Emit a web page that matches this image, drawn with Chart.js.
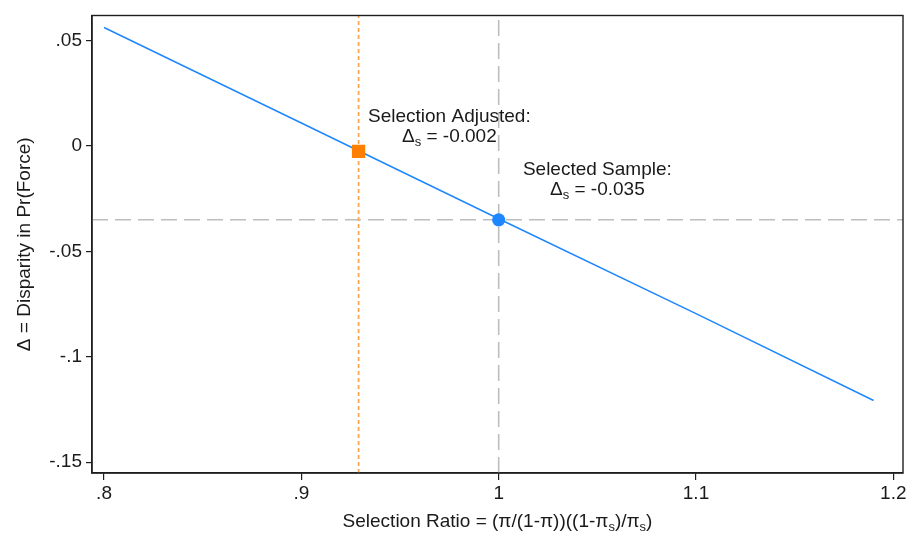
<!DOCTYPE html>
<html>
<head>
<meta charset="utf-8">
<script src="https://cdn.jsdelivr.net/npm/chart.js@4"></script>
<style>
  html, body { margin: 0; padding: 0; background: #ffffff; }
  #wrap { width: 909px; height: 533px; position: relative; }
</style>
</head>
<body>
<div id="wrap"><canvas id="c" width="909" height="533"></canvas></div>
<script>
// ---- data ----
const selectionRatio = [0.8, 0.9, 1.0, 1.1, 1.19];
const disparity = [0.0562, 0.0109, -0.0345, -0.0795, -0.1207];
const selectedX = [1.0];
const selectedY = [-0.035];
const adjustedX = [0.929];
const adjustedY = [-0.0025];
const xTickValues = [0.8, 0.9, 1.0, 1.1, 1.2];
const xTickLabels = ['.8', '.9', '1', '1.1', '1.2'];
const yTickValues = [0.05, 0, -0.05, -0.1, -0.15];
const yTickLabels = ['.05', '0', '-.05', '-.1', '-.15'];
const adjustedLabel = ['Selection Adjusted:', '-0.002'];
const sampleLabel = ['Selected Sample:', '-0.035'];

// ---- axis limits ----
const X_MIN = 0.7939, X_MAX = 1.2049;
const Y_MIN = -0.1551, Y_MAX = 0.0619;

const FONT = '"Liberation Sans", Arial, Helvetica, sans-serif';
const TEXT = '#1a1a1a';

function pts(xs, ys) { return xs.map((x, i) => ({ x: x, y: ys[i] })); }

function drawRich(ctx, parts, cx, baseline) {
  let total = 0;
  parts.forEach(p => {
    ctx.font = (p.sub ? '13px ' : '19px ') + FONT;
    p.w = ctx.measureText(p.t).width;
    total += p.w;
  });
  let x = cx - total / 2;
  ctx.textAlign = 'left';
  ctx.textBaseline = 'alphabetic';
  parts.forEach(p => {
    ctx.font = (p.sub ? '13px ' : '19px ') + FONT;
    ctx.fillText(p.t, x, baseline + (p.sub ? 4 : 0));
    x += p.w;
  });
}

const overlay = {
  id: 'overlay',
  afterDatasetsDraw(chart) {
    const ctx = chart.ctx;
    const a = chart.chartArea;
    const xs = chart.scales.x, ys = chart.scales.y;
    ctx.save();
    ctx.strokeStyle = '#1e1e1e';
    ctx.lineWidth = 1.4;
    ctx.strokeRect(a.left, a.top, a.right - a.left, a.bottom - a.top);
    ctx.fillStyle = TEXT;
    let cx = xs.getPixelForValue(0.975), cy = ys.getPixelForValue(0.01);
    drawRich(ctx, [{ t: adjustedLabel[0] }], cx, cy - 3);
    drawRich(ctx, [{ t: '\u0394' }, { t: 's', sub: true }, { t: ' = ' + adjustedLabel[1] }], cx, cy + 17);
    cx = xs.getPixelForValue(1.05); cy = ys.getPixelForValue(-0.015);
    drawRich(ctx, [{ t: sampleLabel[0] }], cx, cy - 3);
    drawRich(ctx, [{ t: '\u0394' }, { t: 's', sub: true }, { t: ' = ' + sampleLabel[1] }], cx, cy + 17);
    drawRich(ctx, [
      { t: 'Selection Ratio = (\u03c0/(1-\u03c0))((1-\u03c0' }, { t: 's', sub: true },
      { t: ')/\u03c0' }, { t: 's', sub: true }, { t: ')' }
    ], (a.left + a.right) / 2, 527);
    ctx.translate(29.5, (a.top + a.bottom) / 2);
    ctx.rotate(-Math.PI / 2);
    drawRich(ctx, [{ t: '\u0394 = Disparity in Pr(Force)' }], 0, 0);
    ctx.restore();
  }
};

new Chart(document.getElementById('c'), {
  type: 'line',
  data: {
    datasets: [
      {
        data: pts(adjustedX, adjustedY), showLine: false,
        pointStyle: 'rect', pointRadius: 9.4, backgroundColor: '#ff7f00', borderColor: '#ff7f00',
        borderWidth: 0, order: 0
      },
      {
        data: pts(selectedX, selectedY), showLine: false,
        pointStyle: 'circle', pointRadius: 6.6, backgroundColor: '#1e87ff', borderColor: '#1e87ff',
        borderWidth: 0, order: 1
      },
      {
        data: pts(selectionRatio, disparity), borderColor: '#1e87ff', borderWidth: 1.5,
        pointRadius: 0, fill: false, tension: 0, order: 2
      },
      {
        data: [{ x: adjustedX[0], y: Y_MIN }, { x: adjustedX[0], y: Y_MAX }],
        borderColor: '#ffa64d', borderWidth: 1.8, borderDash: [4, 3], pointRadius: 0, order: 3
      },
      {
        data: [{ x: selectedX[0], y: Y_MIN }, { x: selectedX[0], y: Y_MAX }],
        borderColor: '#bdbdbd', borderWidth: 1.6, borderDash: [16, 7], pointRadius: 0, order: 4
      },
      {
        data: [{ x: X_MIN, y: selectedY[0] }, { x: X_MAX, y: selectedY[0] }],
        borderColor: '#bdbdbd', borderWidth: 1.6, borderDash: [16, 7], pointRadius: 0, order: 5
      }
    ]
  },
  options: {
    responsive: false,
    animation: false,
    events: [],
    layout: { autoPadding: false, padding: { top: 15.5, right: 6, left: 0, bottom: 0 } },
    plugins: { legend: { display: false }, tooltip: { enabled: false } },
    scales: {
      x: {
        type: 'linear', min: X_MIN, max: X_MAX,
        afterBuildTicks(s) { s.ticks = xTickValues.map(v => ({ value: v })); },
        afterFit(s) { s.height = 60; s.paddingLeft = 0; s.paddingRight = 0; },
        ticks: {
          autoSkip: false, maxRotation: 0, padding: 2, color: TEXT,
          font: { family: FONT, size: 19 },
          callback(v) { const i = xTickValues.findIndex(t => Math.abs(t - v) < 1e-9); return i >= 0 ? xTickLabels[i] : ''; }
        },
        grid: { drawOnChartArea: false, drawTicks: true, tickLength: 7, color: '#1e1e1e', lineWidth: 1.2 },
        border: { display: true, color: '#1e1e1e', width: 1.4 }
      },
      y: {
        type: 'linear', min: Y_MIN, max: Y_MAX,
        afterBuildTicks(s) { s.ticks = yTickValues.map(v => ({ value: v })); },
        afterFit(s) { s.width = 92; s.paddingTop = 0; s.paddingBottom = 0; },
        ticks: {
          autoSkip: false, padding: 4, color: TEXT,
          font: { family: FONT, size: 19 },
          callback(v) { const i = yTickValues.findIndex(t => Math.abs(t - v) < 1e-9); return i >= 0 ? yTickLabels[i] : ''; }
        },
        grid: { drawOnChartArea: false, drawTicks: true, tickLength: 6, color: '#1e1e1e', lineWidth: 1.2 },
        border: { display: true, color: '#1e1e1e', width: 1.4 }
      }
    }
  },
  plugins: [overlay]
});
</script>
</body>
</html>
